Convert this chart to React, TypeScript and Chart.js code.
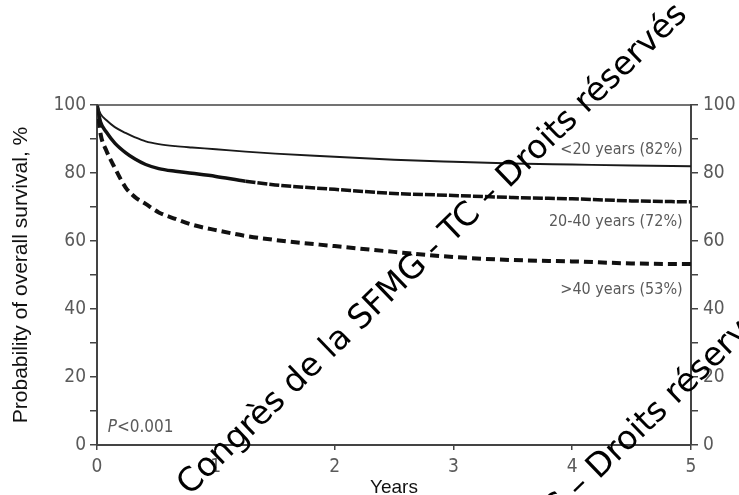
import React, { useEffect, useRef } from "react";
import { Chart, registerables } from "chart.js";

Chart.register(...registerables);

const years = [0, 0.03, 0.08, 0.15, 0.24, 0.32, 0.41, 0.52, 0.66, 0.8, 1, 1.25, 1.5, 2, 2.5, 3, 3.5, 4, 4.5, 5];
const under20 = [100, 97.4, 95.5, 93.5, 91.8, 90.5, 89.3, 88.5, 87.9, 87.5, 87, 86.3, 85.7, 84.8, 83.9, 83.3, 82.8, 82.5, 82.2, 82];
const age20to40 = [100, 95, 92, 88.8, 86, 84.1, 82.5, 81.3, 80.5, 79.9, 79, 77.6, 76.5, 75.2, 74, 73.4, 72.8, 72.4, 71.8, 71.5];
const over40 = [100, 91.5, 86.5, 81.5, 75.8, 72.9, 70.9, 68.4, 66.5, 64.8, 63.2, 61.5, 60.3, 58.5, 56.8, 55.3, 54.4, 54, 53.4, 53.2];

const seriesLabels = ["<20 years (82%)", "20-40 years (72%)", ">40 years (53%)"];
const seriesLabelY = [86.8, 65.6, 45.6];
const pValueText = "P<0.001";
const watermark = "Congrès de la SFMG - TC – Droits réservés";

const TICK_FONT = "'Liberation Sans Narrow', 'DejaVu Sans Condensed', 'Liberation Sans', sans-serif";
const GRAY = "#5a5a5a";
const AXIS = "#444";

export default function App() {
  const ref = useRef<HTMLCanvasElement | null>(null);

  useEffect(() => {
    document.body.style.margin = "0";
    const canvas = ref.current!;
    const mk = (ys: number[]) => years.map((x, i) => ({ x, y: ys[i] }));

    const overlay = {
      id: "overlay",
      afterDraw(chart: any) {
        const { ctx, chartArea, scales } = chart;
        const xs = scales.x;
        const ys = scales.y;
        ctx.save();
        // top border
        ctx.strokeStyle = AXIS;
        ctx.lineWidth = 1.5;
        ctx.beginPath();
        ctx.moveTo(chartArea.left, chartArea.top);
        ctx.lineTo(chartArea.right, chartArea.top);
        ctx.stroke();
        // series labels
        ctx.fillStyle = GRAY;
        ctx.font = `16px ${TICK_FONT}`;
        ctx.textAlign = "right";
        ctx.textBaseline = "middle";
        seriesLabels.forEach((t, i) => {
          ctx.fillText(t, xs.getPixelForValue(4.93), ys.getPixelForValue(seriesLabelY[i]));
        });
        // P value
        ctx.textAlign = "left";
        const px = xs.getPixelForValue(0.09);
        const py = ys.getPixelForValue(5);
        ctx.font = `italic 17px ${TICK_FONT}`;
        ctx.fillText("P", px, py);
        const pw = ctx.measureText("P").width;
        ctx.font = `17px ${TICK_FONT}`;
        ctx.fillText(pValueText.slice(1), px + pw, py);
        // watermark
        ctx.fillStyle = "#000";
        ctx.font = "33px 'DejaVu Sans', sans-serif";
        ctx.textAlign = "center";
        ctx.textBaseline = "middle";
        const ang = (-43.9 * Math.PI) / 180;
        const centers = [
          [433, 250],
          [523, 541],
        ];
        centers.forEach(([cx, cy]) => {
          ctx.save();
          ctx.translate(cx, cy);
          ctx.rotate(ang);
          ctx.fillText(watermark, 0, 0);
          ctx.restore();
        });
        ctx.restore();
      },
    };

    const yTicks = {
      stepSize: 10,
      color: GRAY,
      font: { family: TICK_FONT, size: 19 },
      callback: (v: any) => (Number(v) % 20 === 0 ? String(v) : ""),
    };

    const chart = new Chart(canvas, {
      type: "line",
      data: {
        datasets: [
          {
            label: seriesLabels[0],
            data: mk(under20),
            borderColor: "#1a1a1a",
            borderWidth: 1.9,
            pointRadius: 0,
            cubicInterpolationMode: "monotone",
          },
          {
            label: seriesLabels[1],
            data: mk(age20to40),
            borderColor: "#111",
            borderWidth: 3.5,
            pointRadius: 0,
            cubicInterpolationMode: "monotone",
            segment: {
              borderDash: (c: any) => (c.p0.parsed.x >= 1.25 ? [10, 2] : []),
            },
          },
          {
            label: seriesLabels[2],
            data: mk(over40),
            borderColor: "#111",
            borderWidth: 4,
            borderDash: [9, 5],
            pointRadius: 0,
            cubicInterpolationMode: "monotone",
          },
        ],
      },
      options: {
        animation: false,
        responsive: false,
        layout: { padding: { top: 105, left: 0, right: 0, bottom: 0 } },
        plugins: { legend: { display: false }, tooltip: { enabled: false } },
        scales: {
          x: {
            type: "linear",
            min: 0,
            max: 5,
            afterFit: (s: any) => {
              s.height = 50;
            },
            border: { color: AXIS, width: 2 },
            grid: { drawOnChartArea: false, drawTicks: true, tickLength: 5, color: AXIS, lineWidth: 1.5 },
            ticks: { stepSize: 1, color: GRAY, font: { family: TICK_FONT, size: 19 }, padding: 6 },
            title: {
              display: true,
              text: "Years",
              color: "#111",
              font: { family: "'Liberation Sans', sans-serif", size: 19 },
              padding: { top: 0, bottom: -4 },
            },
          },
          y: {
            position: "left",
            min: 0,
            max: 100,
            afterFit: (s: any) => {
              s.width = 97;
            },
            border: { color: AXIS, width: 2 },
            grid: { drawOnChartArea: false, drawTicks: true, tickLength: 7, color: AXIS, lineWidth: 1.5 },
            ticks: { ...yTicks, padding: 4 },
            title: {
              display: true,
              text: "Probability of overall survival, %",
              color: "#111",
              font: { family: "'Liberation Sans', sans-serif", size: 21 },
              padding: { top: 9, bottom: 0 },
            },
          },
          y2: {
            position: "right",
            min: 0,
            max: 100,
            afterFit: (s: any) => {
              s.width = 48;
            },
            border: { color: AXIS, width: 2 },
            grid: { drawOnChartArea: false, drawTicks: true, tickLength: 7, color: AXIS, lineWidth: 1.5 },
            ticks: { ...yTicks, padding: 5 },
          },
        },
      },
      plugins: [overlay],
    } as any);

    return () => chart.destroy();
  }, []);

  return <canvas ref={ref} width={739} height={495} style={{ display: "block" }} />;
}
